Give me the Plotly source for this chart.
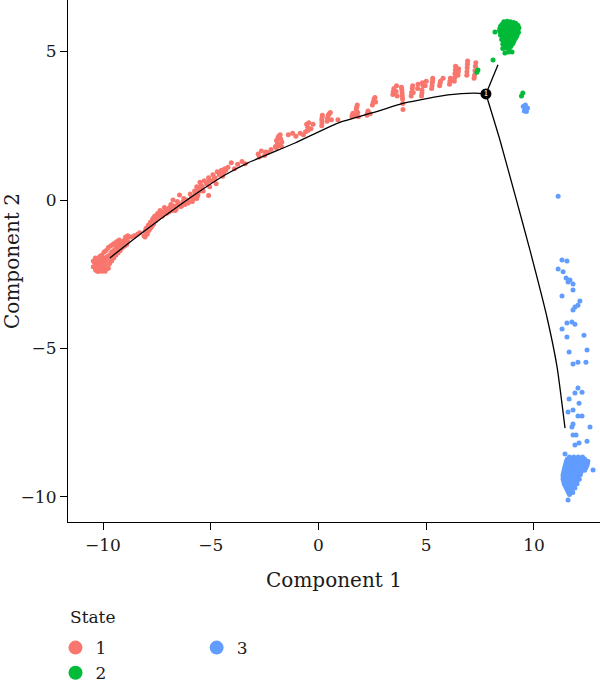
import plotly.graph_objects as go

# ---------------- data ----------------
state1_x = [
    -10.45, -10.40, -10.35, -10.30, -10.25, -10.20, -10.15, -10.10, -10.05, -10.00,
    -9.95, -9.90, -9.85, -9.80, -9.75, -9.70, -9.65, -9.60, -9.55, -9.50,
    -9.45, -9.40, -9.35, -9.30, -9.25, -9.20, -9.15, -9.10, -9.05, -9.00,
    -8.95, -8.90, -8.85, -8.80, -9.70, -10.20, -9.95, -10.30, -10.05, -9.85,
    -10.45, -10.35, -10.25, -10.15, -10.05, -9.95, -9.90, -9.85, -9.75, -9.65,
    -9.60, -9.55, -9.50, -9.45, -9.40, -9.35, -9.30, -9.25, -9.20, -9.10,
    -9.00, -8.95, -8.90, -8.85,
    -8.70, -8.55, -8.40, -8.30,
    -8.10, -8.05, -8.00, -7.95, -7.90, -7.85, -7.80, -7.75, -7.70, -7.65,
    -7.60, -7.55, -7.50, -7.45, -7.40, -7.35, -7.30, -7.20, -7.10, -7.00,
    -8.05, -7.95, -7.90, -7.80, -7.70, -7.65, -7.55, -7.45, -7.35, -7.25,
    -7.15, -7.05,
    -6.90, -6.80, -6.70, -6.60, -6.50, -6.40, -6.30, -6.20, -6.10, -6.00,
    -5.90, -5.80, -5.70, -5.60, -5.50, -6.75, -6.45, -5.10,
    -6.95, -6.85, -6.65, -6.55, -6.35, -6.25, -6.05, -5.95, -5.85, -5.75,
    -5.65, -5.55,
    -5.70, -5.65, -5.55, -5.50, -5.40, -5.30, -5.20, -5.10, -5.00, -4.90,
    -4.80, -4.70, -4.60, -4.50, -4.40, -4.35,
    -5.60, -5.45, -5.35, -5.15, -5.05, -4.85, -4.75, -4.55, -4.45, -4.30,
    -4.20, -4.05, -3.90, -3.75, -3.55, -3.40,
    -2.80, -2.65, -2.50, -2.35, -2.20, -2.75, -2.45,
    -2.00, -1.95, -1.90, -1.85, -1.80, -1.75, -1.70, -1.95, -1.88, -1.78, -1.72,
    -1.40, -1.20, -1.05, -0.85, -0.70,
    -0.60, -0.55, -0.50, -0.45, -0.35, -0.25, 0.15, 0.15, 0.18, 0.40,
    0.45, 0.55, 0.60, 0.90, 1.55, 1.60, 1.72, 1.75, 1.80, 1.85,
    2.25, 2.30, 2.40, 2.50, 2.58, 2.65,
    -0.48, 0.16, 0.17, 0.42, 0.50, 1.57, 1.77, 1.82, 2.27, 2.54, 2.62,
    3.45, 3.50, 3.60, 3.65, 3.85, 3.88, 3.90, 3.92, 4.30, 4.35,
    4.40, 4.78, 4.80, 4.85,
    4.60, 4.62, 4.95, 5.00, 5.25, 5.28, 5.30, 5.62, 5.66, 5.78,
    6.08, 6.12, 6.30, 6.33, 6.36, 6.47, 6.50, 6.88, 6.90, 6.92,
    7.24, 7.28,
    3.47, 3.62, 3.87, 3.89, 3.91, 4.32, 4.37, 4.80, 4.82, 5.27,
    5.30, 5.64, 6.10, 6.32, 6.35, 6.49, 6.89, 6.91, 7.26, 7.30, 7.22,
]
state1_y = [
    -2.25, -2.10, -2.35, -2.20, -2.05, -2.30, -2.15, -2.00, -2.25, -2.10,
    -1.95, -2.20, -2.05, -1.90, -2.30, -1.85, -2.00, -1.75, -1.90, -1.70,
    -1.85, -1.60, -1.75, -1.55, -1.65, -1.45, -1.60, -1.40, -1.50, -1.35,
    -1.45, -1.30, -1.40, -1.25, -2.15, -2.40, -2.35, -2.38, -2.40, -2.32,
    -2.05, -1.95, -2.40, -1.90, -1.85, -1.75, -2.40, -1.70, -1.60, -1.55,
    -2.05, -1.50, -1.95, -1.45, -1.85, -1.40, -1.78, -1.35, -1.70, -1.60,
    -1.55, -1.25, -1.50, -1.20,
    -1.25, -1.20, -1.15, -1.10,
    -1.20, -1.05, -0.95, -1.15, -0.85, -1.00, -0.75, -0.90, -0.65, -0.80,
    -0.55, -0.70, -0.50, -0.62, -0.45, -0.55, -0.40, -0.45, -0.35, -0.30,
    -1.25, -0.95, -1.05, -0.95, -0.85, -0.60, -0.55, -0.45, -0.35, -0.55,
    -0.25, -0.45,
    -0.25, -0.35, -0.20, -0.30, -0.15, -0.22, -0.08, -0.15, 0.00, -0.05,
    0.10, 0.05, 0.20, 0.15, 0.30, 0.00, 0.17, 0.15,
    -0.40, -0.15, -0.35, -0.05, -0.20, 0.05, -0.10, 0.20, -0.05, 0.30,
    0.05, 0.40,
    0.20, 0.45, 0.35, 0.60, 0.45, 0.65, 0.55, 0.75, 0.65, 0.85,
    0.75, 0.95, 0.85, 1.00, 0.92, 1.05,
    0.25, 0.50, 0.30, 0.60, 0.45, 0.70, 0.55, 0.95, 0.80, 1.00,
    1.10, 1.25, 1.05, 1.20, 1.30, 1.22,
    1.55, 1.65, 1.50, 1.60, 1.70, 1.45, 1.62,
    1.80, 2.00, 1.90, 2.15, 1.85, 2.05, 1.95, 1.75, 2.10, 2.20, 1.80,
    2.20, 2.25, 2.15, 2.25, 2.20,
    2.30, 2.55, 2.45, 2.60, 2.40, 2.55, 2.50, 2.70, 2.85, 2.65,
    2.85, 2.95, 2.70, 2.70, 2.80, 2.92, 2.85, 3.05, 3.20, 2.80,
    2.85, 3.00, 2.90, 3.20, 3.40, 3.30,
    2.35, 2.60, 2.78, 2.75, 2.90, 2.86, 3.12, 2.95, 2.92, 3.30, 3.45,
    3.55, 3.75, 3.65, 3.50, 3.80, 3.60, 3.40, 3.05, 3.50, 3.75,
    3.62, 3.50, 3.70, 3.85,
    3.75, 3.90, 3.85, 4.00, 3.75, 3.95, 4.10, 3.85, 4.00, 4.10,
    3.90, 4.10, 4.00, 4.25, 4.50, 4.20, 4.42, 4.20, 4.45, 4.68,
    4.20, 4.50,
    3.65, 3.85, 3.70, 3.50, 3.25, 3.62, 3.85, 3.60, 3.95, 3.85,
    4.02, 3.92, 4.00, 4.12, 4.38, 4.32, 4.32, 4.57, 4.35, 4.62, 4.10,
]

state2_x = [
    8.60, 8.75, 8.90, 9.05, 9.15,
    8.52, 8.68, 8.82, 8.98, 9.12, 9.25,
    8.45, 8.60, 8.75, 8.90, 9.05, 9.20, 9.30,
    8.42, 8.50, 8.65, 8.80, 8.95, 9.10, 9.25,
    8.40, 8.55, 8.70, 8.85, 9.00, 9.15, 9.28,
    8.45, 8.52, 8.68, 8.82, 8.98, 9.12, 9.22,
    8.45, 8.60, 8.75, 8.90, 9.05, 9.20,
    8.55, 8.72, 8.88, 9.02, 9.15,
    8.50, 8.65, 8.80, 8.95, 9.10,
    8.60, 8.78, 8.92, 9.05,
    8.55, 8.70, 8.85, 9.00,
    8.62, 8.78, 8.92,
    8.55, 8.70, 8.85,
    8.65, 8.98, 8.82,
    8.19, 8.10,
    9.42, 9.48,
    7.35, 7.40,
]
state2_y = [
    6.00, 6.02, 6.00, 5.98, 5.95,
    5.92, 5.94, 5.93, 5.92, 5.90, 5.88,
    5.85, 5.85, 5.88, 5.85, 5.85, 5.82, 5.80,
    5.78, 5.77, 5.78, 5.79, 5.78, 5.76, 5.74,
    5.70, 5.72, 5.70, 5.72, 5.70, 5.68, 5.65,
    5.62, 5.63, 5.64, 5.63, 5.62, 5.60, 5.58,
    5.55, 5.58, 5.55, 5.57, 5.55, 5.52,
    5.48, 5.49, 5.48, 5.47, 5.46,
    5.40, 5.42, 5.40, 5.42, 5.40,
    5.33, 5.34, 5.33, 5.32,
    5.25, 5.28, 5.25, 5.25,
    5.18, 5.18, 5.17,
    5.10, 5.12, 5.05,
    4.95, 4.98, 4.98,
    5.66, 4.71,
    3.50, 3.60,
    4.30, 4.38,
]

state3_x = [
    9.50, 9.60, 9.70, 9.55, 9.65, 9.62,
    11.12, 11.30, 11.53, 11.12, 11.35, 11.49, 11.67, 11.58, 11.81, 11.81,
    11.30, 12.13, 12.04, 11.90, 11.81, 11.53, 11.76, 11.90, 11.30, 11.53,
    12.32, 12.46, 11.63, 11.81, 12.04, 12.41, 12.04, 11.90, 12.23, 11.63,
    12.09, 11.58, 11.81, 12.04, 12.23, 11.81, 11.76, 12.60, 11.81, 11.95,
    11.90, 12.09, 12.46, 11.44, 12.74, 11.58,
    11.65, 11.85, 12.05, 12.25,
    11.55, 11.75, 11.95, 12.15, 12.35,
    11.50, 11.70, 11.90, 12.10, 12.30, 12.50,
    11.48, 11.68, 11.88, 12.08, 12.28, 12.48,
    11.45, 11.65, 11.85, 12.05, 12.25, 12.45,
    11.42, 11.62, 11.82, 12.02, 12.22, 12.40,
    11.40, 11.60, 11.80, 12.00, 12.20, 12.35,
    11.38, 11.58, 11.78, 11.98, 12.18,
    11.35, 11.55, 11.75, 11.95, 12.15,
    11.35, 11.55, 11.75, 11.95, 12.05,
    11.35, 11.55, 11.75, 11.95, 12.10,
    11.38, 11.58, 11.78, 11.98,
    11.40, 11.60, 11.80, 12.00,
    11.45, 11.65, 11.85,
    11.50, 11.70, 11.90,
    11.55, 11.75,
    11.60, 11.80,
    11.65,
]
state3_y = [
    3.15, 3.20, 3.10, 3.00, 2.98, 3.08,
    0.13, -2.02, -2.05, -2.32, -2.42, -2.63, -2.69, -2.76, -2.83, -3.03,
    -3.23, -3.40, -3.54, -3.60, -3.70, -4.14, -4.11, -4.18, -4.34, -4.61,
    -4.55, -5.05, -5.12, -5.52, -5.46, -5.46, -6.33, -6.50, -6.47, -6.70,
    -6.84, -7.14, -7.07, -7.27, -7.27, -7.54, -7.64, -7.64, -7.91, -7.91,
    -8.25, -8.18, -8.12, -8.55, -9.09, -10.10,
    -8.65, -8.65, -8.65, -8.65,
    -8.72, -8.72, -8.72, -8.72, -8.72,
    -8.80, -8.80, -8.80, -8.80, -8.80, -8.80,
    -8.87, -8.87, -8.87, -8.87, -8.87, -8.87,
    -8.95, -8.95, -8.95, -8.95, -8.95, -8.95,
    -9.02, -9.02, -9.02, -9.02, -9.02, -9.02,
    -9.10, -9.10, -9.10, -9.10, -9.10, -9.10,
    -9.17, -9.17, -9.17, -9.17, -9.17,
    -9.25, -9.25, -9.25, -9.25, -9.25,
    -9.32, -9.32, -9.32, -9.32, -9.32,
    -9.40, -9.40, -9.40, -9.40, -9.40,
    -9.47, -9.47, -9.47, -9.47,
    -9.55, -9.55, -9.55, -9.55,
    -9.62, -9.62, -9.62,
    -9.70, -9.70, -9.70,
    -9.77, -9.77,
    -9.85, -9.85,
    -9.92,
]

# principal tree (trajectory backbone)
trunk_x = [-9.68, -8.14, -6.20, -4.34, -3.27, -1.09, 0.90, 2.48, 4.01, 6.01, 7.26, 7.77]
trunk_y = [-1.95, -1.08, -0.05, 0.84, 1.25, 1.92, 2.59, 2.93, 3.27, 3.54, 3.60, 3.57]
branch2_x = [7.77, 8.33]
branch2_y = [3.57, 4.55]
branch3_x = [7.77, 8.42, 9.12, 9.81, 10.60, 11.07, 11.44]
branch3_y = [3.57, 2.02, 0.17, -1.68, -3.94, -5.62, -7.68]

branch_point_x = [7.77]
branch_point_y = [3.57]
branch_point_label = ["1"]

states = ["1", "2", "3"]
colors = {"1": "#F8766D", "2": "#00BA38", "3": "#619CFF"}
state_data = {"1": (state1_x, state1_y), "2": (state2_x, state2_y), "3": (state3_x, state3_y)}

FONT = "DejaVu Serif"

fig = go.Figure()

for s in states:
    xs, ys = state_data[s]
    fig.add_trace(go.Scatter(
        x=xs, y=ys, mode="markers",
        marker=dict(color=colors[s], size=5, line=dict(width=0)),
        showlegend=False, hoverinfo="skip"))

for bx, by in [(trunk_x, trunk_y), (branch2_x, branch2_y), (branch3_x, branch3_y)]:
    fig.add_trace(go.Scatter(
        x=bx, y=by, mode="lines",
        line=dict(color="black", width=1.3, shape="spline", smoothing=0.5),
        showlegend=False, hoverinfo="skip"))

fig.add_trace(go.Scatter(
    x=branch_point_x, y=branch_point_y, mode="markers+text",
    text=branch_point_label, textposition="middle center",
    textfont=dict(color="white", size=8, family=FONT),
    marker=dict(color="black", size=11, line=dict(width=0)),
    showlegend=False, hoverinfo="skip"))

# legend entries
for s in states:
    fig.add_trace(go.Scatter(
        x=[None], y=[None], mode="markers", name=s,
        marker=dict(color=colors[s], size=14),
        legend="legend2" if s == "3" else "legend",
        showlegend=True))

x_min, x_max = -11.624, 13.063
y_min, y_max = -10.842, 6.734

fig.update_layout(
    width=600, height=684,
    margin=dict(l=68, r=0, t=0, b=162, autoexpand=False),
    paper_bgcolor="white", plot_bgcolor="white",
    font=dict(family=FONT, size=17, color="#1a1a1a"),
    xaxis=dict(
        range=[x_min, x_max], tickvals=[-10, -5, 0, 5, 10],
        showgrid=False, zeroline=False, showline=True, linecolor="black", linewidth=1.2,
        ticks="outside", ticklen=7, tickwidth=1.2, tickcolor="black",
        title=dict(text="Component 1", standoff=19),
    ),
    yaxis=dict(
        range=[y_min, y_max], tickvals=[-10, -5, 0, 5],
        showgrid=False, zeroline=False, showline=True, linecolor="black", linewidth=1.2,
        ticks="outside", ticklen=7, tickwidth=1.2, tickcolor="black",
        title=dict(text="Component 2", standoff=4),
    ),
    legend=dict(
        orientation="v",
        x=-0.0235, xanchor="left", y=-0.207, yanchor="top",
        bgcolor="rgba(0,0,0,0)", itemclick=False, itemdoubleclick=False,
    ),
    legend2=dict(
        orientation="v",
        x=0.2418, xanchor="left", y=-0.207, yanchor="top",
        bgcolor="rgba(0,0,0,0)", itemclick=False, itemdoubleclick=False,
    ),
    annotations=[dict(
        text="State", xref="paper", yref="paper",
        x=0.0, xanchor="left", y=-0.182, yanchor="middle",
        showarrow=False, font=dict(family=FONT, size=17, color="#1a1a1a"),
    )],
)

fig.write_html("out.html")
